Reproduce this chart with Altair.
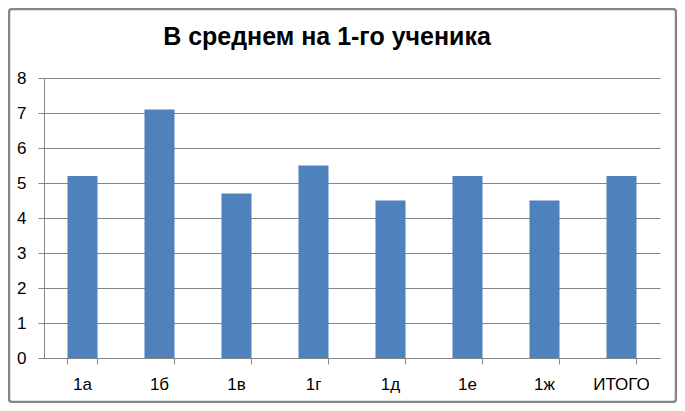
import altair as alt
import pandas as pd

classes = ["1а", "1б", "1в", "1г", "1д", "1е", "1ж", "ИТОГО"]
values = [5.2, 7.1, 4.7, 5.5, 4.5, 5.2, 4.5, 5.2]
y_ticks = [0, 1, 2, 3, 4, 5, 6, 7, 8]
title_text = "В среднем на 1-го ученика"

df = pd.DataFrame({"cls": classes, "val": values})

GRAY = "#868686"
FONT = "Liberation Sans"

bars = alt.Chart(df).mark_bar(color="#4F81BD").encode(
    x=alt.X("cls:N", sort=classes, title=None,
            scale=alt.Scale(paddingInner=0.61, paddingOuter=0.305),
            axis=alt.Axis(labelAngle=0, labelFontSize=17, labelFont=FONT,
                          labelColor="#000000", labelPadding=12,
                          tickColor=GRAY, tickSize=6, domainColor=GRAY,
                          bandPosition=1, tickExtra=True, grid=False)),
    y=alt.Y("val:Q", title=None,
            scale=alt.Scale(domain=[0, 8], nice=False),
            axis=alt.Axis(values=y_ticks, labelFontSize=17, labelFont=FONT,
                          labelColor="#000000", labelPadding=12,
                          tickColor=GRAY, tickSize=6, domainColor=GRAY,
                          gridColor=GRAY, grid=True)),
)

title = alt.Chart(alt.Data(values=[{"t": title_text}])).mark_text(
    font=FONT, fontSize=25, fontWeight="bold", color="#000000",
    align="center", baseline="alphabetic"
).encode(
    text="t:N", x=alt.value(283), y=alt.value(-33),
)

border = alt.Chart(alt.Data(values=[{}])).mark_rect(
    fill=None, stroke=GRAY, strokeWidth=2.5, cornerRadius=3
).encode(
    x=alt.value(-35), x2=alt.value(632),
    y=alt.value(-69), y2=alt.value(324),
)

chart = alt.layer(bars, title, border).properties(
    width=616, height=280,
    autosize=alt.AutoSizeParams(type="none"),
    padding={"left": 36, "top": 70, "right": 17, "bottom": 45},
).configure_view(stroke=None).configure_axis(domainWidth=1, tickWidth=1, gridWidth=1)

chart.save("out.html", embed_options={"renderer": "svg", "actions": False})
